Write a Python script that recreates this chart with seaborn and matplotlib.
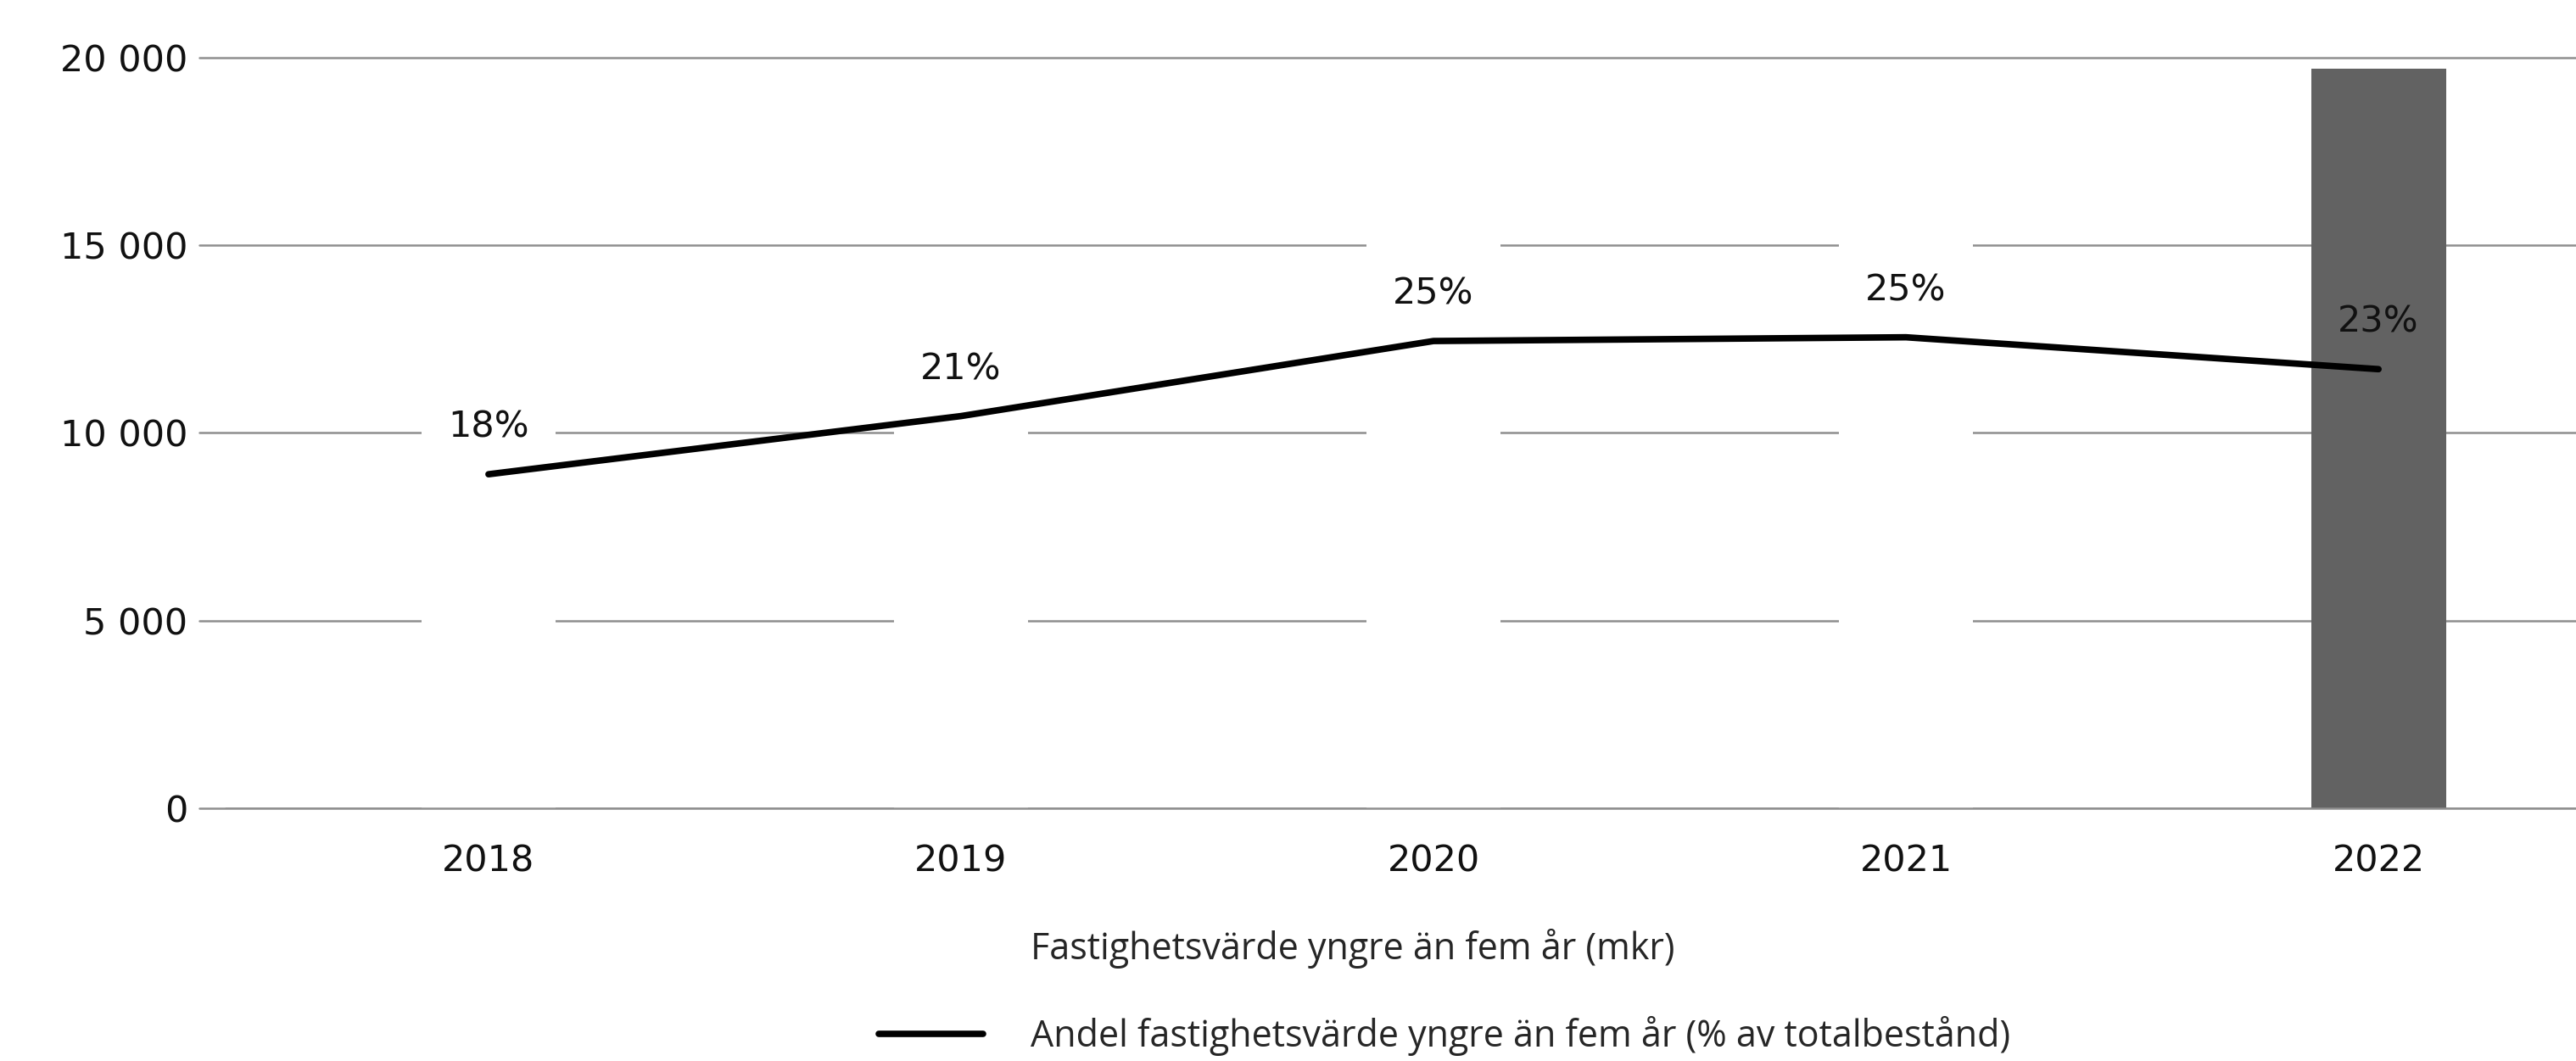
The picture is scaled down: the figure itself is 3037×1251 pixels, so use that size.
import matplotlib
matplotlib.use("Agg")
import matplotlib.pyplot as plt
from matplotlib.patches import Patch
from matplotlib.lines import Line2D
from matplotlib.ticker import FuncFormatter
import seaborn as sns
import pandas as pd

# Data
years = ["2018", "2019", "2020", "2021", "2022"]
value_mkr = [11000, 13200, 16600, 18200, 19700]      # Fastighetsvärde yngre än fem år (mkr)
share_pct = [17.8, 20.9, 24.9, 25.1, 23.4]           # Andel av totalbestånd (%)
bar_colors = ["#ffffff", "#ffffff", "#ffffff", "#ffffff", "#626262"]
y_ticks = [0, 5000, 10000, 15000, 20000]

bar_label = "Fastighetsvärde yngre än fem år (mkr)"
line_label = "Andel fastighetsvärde yngre än fem år (% av totalbestånd)"

sns.set_theme(style="white")
plt.rcParams["font.family"] = ["Open Sans", "DejaVu Sans"]
FS = 31
NUM_FONT = ["DejaVu Sans"]
NUM_FS = 31

df = pd.DataFrame({"År": years, "Värde": value_mkr, "Andel": share_pct})
df["pos"] = range(len(df))

W, H, DPI = 3037, 1251, 100
fig = plt.figure(figsize=(W / DPI, H / DPI), dpi=DPI, facecolor="white")

left = 235 / W
bottom = 1 - 953 / H
top = 1 - 68 / H
ax = fig.add_axes([left, bottom, 1 - left, top - bottom])
ax.set_axisbelow(True)

sns.barplot(data=df, x="År", y="Värde", hue="År", palette=bar_colors,
            legend=False, width=0.285, saturation=1, linewidth=0, ax=ax)

ax.set_xlim(-0.612, 4.418)
ax.set_ylim(0, 20000)
ax.set_yticks(y_ticks)
ax.yaxis.set_major_formatter(FuncFormatter(lambda v, _: f"{v:,.0f}".replace(",", " ")))
grid_kw = dict(color="#8f8f8f", linewidth=1.8)
ax.grid(axis="y", **grid_kw)
ax.grid(axis="x", visible=False)
for gl in ax.get_ygridlines():
    gl.set_clip_on(False)
# baseline stays visible across the white bars
ax.axhline(0, xmin=0.011, xmax=1, zorder=1.5, **grid_kw)
for s in ax.spines.values():
    s.set_visible(False)
ax.tick_params(axis="both", length=0, labelsize=NUM_FS, colors="#111111")
ax.tick_params(axis="y", pad=10)
ax.tick_params(axis="x", pad=30)
for lab in ax.get_xticklabels() + ax.get_yticklabels():
    lab.set_family(NUM_FONT)
ax.set_xlabel("")
ax.set_ylabel("")

# Share line on a hidden secondary axis (0–40 %)
ax2 = ax.twinx()
sns.lineplot(data=df, x="pos", y="Andel", color="black", linewidth=5.5,
             sort=False, legend=False, ax=ax2)
ax2.set_ylim(0, 40)
ax2.set_xlim(ax.get_xlim())
ax2.axis("off")
for x, v in zip(df["pos"], df["Andel"]):
    ax2.annotate(f"{v:.0f}%", (x, v), xytext=(0, 40), textcoords="offset points",
                 ha="center", va="center", fontsize=NUM_FS, family=NUM_FONT,
                 color="#111111")

handles = [Patch(facecolor="white", edgecolor="none"),
           Line2D([0], [0], color="black", linewidth=5.5)]
fig.legend(handles, [bar_label, line_label], loc="upper left",
           bbox_to_anchor=(1036 / W, 1 - 1095 / H), frameon=False,
           fontsize=FS, handlelength=2.85, handletextpad=1.3,
           labelspacing=1.3, borderpad=0, borderaxespad=0)

fig.savefig("out.png", dpi=DPI, facecolor="white")
